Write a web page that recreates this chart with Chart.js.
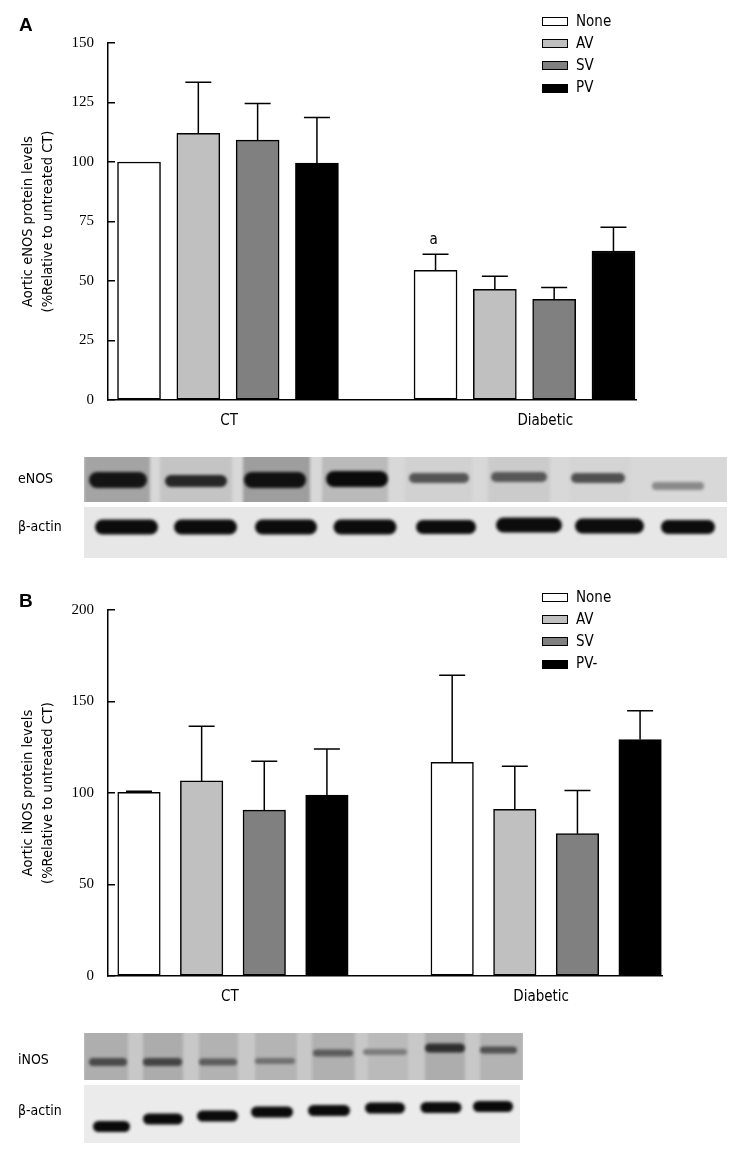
<!DOCTYPE html>
<html>
<head>
<meta charset="utf-8">
<script src="https://cdn.jsdelivr.net/npm/chart.js@4.4.1/dist/chart.umd.min.js"></script>
<style>
  body { margin: 0; background: #fff; }
  #page { position: relative; width: 745px; height: 1156px; overflow: hidden; font-family: "DejaVu Sans Condensed", "DejaVu Sans", sans-serif; color: #000; }
  .abs { position: absolute; }
  .panel { font-family: "Liberation Sans", Arial, sans-serif; font-weight: bold; font-size: 19px; }
  .blotlbl { font-size: 14px; line-height: 16px; }
  .legend-row { position: absolute; left: 542px; height: 12px; font-size: 15px; white-space: nowrap; }
  .legend-row span.box { position: absolute; left: 0; top: 1.5px; width: 24px; height: 7px; border: 1px solid #000; }
  .legend-row span.txt { position: absolute; left: 34px; top: -5px; line-height: 20px; }
</style>
</head>
<body>
<div id="page">
  <canvas id="blots" class="abs" width="745" height="1156" style="left:0;top:0"></canvas>
  <div class="abs" style="left:0;top:0;width:745px;height:440px"><canvas id="chartA"></canvas></div>
  <div class="abs" style="left:0;top:580px;width:745px;height:440px"><canvas id="chartB"></canvas></div>
  <div class="abs panel" style="left:19px;top:14px">A</div>
  <div class="abs panel" style="left:19px;top:590px">B</div>
  <div class="abs blotlbl" style="left:18px;top:470px">eNOS</div>
  <div class="abs blotlbl" style="left:18px;top:518px">β-actin</div>
  <div class="abs blotlbl" style="left:18px;top:1051px">iNOS</div>
  <div class="abs blotlbl" style="left:18px;top:1102px">β-actin</div>
  <div id="legendA"></div>
  <div id="legendB"></div>
</div>
<script>
// groups on the x axis
const groups = ['CT', 'Diabetic'];
const seriesColors = ['#ffffff', '#c0c0c0', '#808080', '#000000'];

// panel A: aortic eNOS
const seriesA = ['None', 'AV', 'SV', 'PV'];
const eNOS_CT = [100, 112, 109.2, 99.5];
const eNOS_CT_sem = [0, 21.5, 15.4, 19.2];
const eNOS_Diab = [54.5, 46.5, 42.3, 62.6];
const eNOS_Diab_sem = [6.7, 5.5, 5.0, 10.0];
const eNOS_marks = [['', ''], ['a', '', '', '']];
const ticksA = [0, 25, 50, 75, 100, 125, 150];

// panel B: aortic iNOS
const seriesB = ['None', 'AV', 'SV', 'PV-'];
const iNOS_CT = [100.3, 106.6, 90.6, 98.8];
const iNOS_CT_sem = [0.6, 29.9, 26.7, 25.2];
const iNOS_Diab = [116.8, 91.1, 77.8, 129.2];
const iNOS_Diab_sem = [47.5, 23.5, 23.5, 15.8];
const ticksB = [0, 50, 100, 150, 200];

const errorBars = {
    id: 'errorBars',
    afterDatasetsDraw(chart) {
        const ctx = chart.ctx;
        const y = chart.scales.y;
        chart.data.datasets.forEach((ds, i) => {
            chart.getDatasetMeta(i).data.forEach((bar, j) => {
                const e = ds.errors[j];
                const top = y.getPixelForValue(ds.data[j].y + e);
                ctx.save();
                ctx.strokeStyle = '#000';
                ctx.lineWidth = 1.5;
                if (e > 0) {
                    ctx.beginPath();
                    ctx.moveTo(bar.x, bar.y);
                    ctx.lineTo(bar.x, top);
                    ctx.moveTo(bar.x - 13, top);
                    ctx.lineTo(bar.x + 13, top);
                    ctx.stroke();
                }
                if (ds.marks && ds.marks[j]) {
                    ctx.fillStyle = '#000';
                    ctx.font = '15px "DejaVu Sans Condensed", "DejaVu Sans", sans-serif';
                    ctx.textAlign = 'center';
                    ctx.textBaseline = 'alphabetic';
                    ctx.fillText(ds.marks[j], bar.x - 2, top - 10);
                }
                ctx.restore();
            });
        });
    }
};

function buildDatasets(names, ctVals, ctSem, diabVals, diabSem, marks) {
    return names.map((name, s) => ({
        label: name,
        data: [{x: s, y: ctVals[s]}, {x: 5 + s, y: diabVals[s]}],
        errors: [ctSem[s], diabSem[s]],
        marks: marks ? [marks[0][s], marks[1][s]] : null,
        backgroundColor: seriesColors[s],
        borderColor: '#000',
        borderWidth: 1.5,
        borderSkipped: false,
        grouped: false
    }));
}

function createChart(id, cfg) {
    return new Chart(document.getElementById(id), {
        type: 'bar',
        data: { datasets: cfg.datasets },
        options: {
            responsive: true,
            maintainAspectRatio: false,
            animation: false,
            barThickness: cfg.barWidth,
            layout: { padding: cfg.padding },
            plugins: { legend: { display: false }, tooltip: { enabled: false } },
            scales: {
                x: {
                    type: 'linear',
                    offset: false,
                    min: cfg.xMin,
                    max: cfg.xMax,
                    grid: { display: false, drawTicks: false },
                    border: { display: true, color: '#000', width: 1.5 },
                    afterBuildTicks: (scale) => { scale.ticks = cfg.labelAt.map(v => ({value: v})); },
                    afterFit: (scale) => { scale.height = cfg.xHeight; },
                    ticks: {
                        autoSkip: false,
                        maxRotation: 0,
                        padding: 12,
                        color: '#000',
                        font: { family: '"DejaVu Sans Condensed", "DejaVu Sans", sans-serif', size: 15 },
                        callback: (value, index) => groups[index]
                    }
                },
                y: {
                    min: 0,
                    max: cfg.yTicks[cfg.yTicks.length - 1],
                    afterBuildTicks: (scale) => { scale.ticks = cfg.yTicks.map(v => ({value: v})); },
                    afterFit: (scale) => { scale.width = 108; },
                    grid: { drawOnChartArea: false, color: '#000', lineWidth: 1.5, tickLength: -7 },
                    border: { display: true, color: '#000', width: 1.5 },
                    ticks: {
                        padding: 21,
                        color: '#000',
                        font: { family: '"Liberation Serif", "Times New Roman", serif', size: 15 }
                    },
                    title: {
                        display: true,
                        text: cfg.yTitle,
                        color: '#000',
                        padding: { top: 18, bottom: 0 },
                        font: { family: '"DejaVu Sans Condensed", "DejaVu Sans", sans-serif', size: 14.5, lineHeight: 1.4 }
                    }
                }
            }
        },
        plugins: [errorBars]
    });
}

function renderLegend(id, names, top) {
    const html = names.map((name, s) => `
        <div class="legend-row" style="top:${top + s * 22.2}px">
            <span class="box" style="background:${seriesColors[s]}"></span>
            <span class="txt">${name}</span>
        </div>`).join('');
    document.getElementById(id).innerHTML = html;
}

createChart('chartA', {
    datasets: buildDatasets(seriesA, eNOS_CT, eNOS_CT_sem, eNOS_Diab, eNOS_Diab_sem, eNOS_marks),
    yTicks: ticksA,
    yTitle: ['Aortic eNOS protein levels', '(%Relative to untreated CT)'],
    xMin: -0.523, xMax: 8.38,
    labelAt: [1.52, 6.85],
    barWidth: 43,
    padding: { top: 43, right: 109, bottom: 0, left: 0 },
    xHeight: 40
});

createChart('chartB', {
    datasets: buildDatasets(seriesB, iNOS_CT, iNOS_CT_sem, iNOS_Diab, iNOS_Diab_sem, null),
    yTicks: ticksB,
    yTitle: ['Aortic iNOS protein levels', '(%Relative to untreated CT)'],
    xMin: -0.495, xMax: 8.35,
    labelAt: [1.45, 6.42],
    barWidth: 42.5,
    padding: { top: 20, right: 83, bottom: 0, left: 0 },
    xHeight: 44
});

renderLegend('legendA', seriesA, 15.5);
renderLegend('legendB', seriesB, 591.5);

// western blot strips (decoration under the charts)
const blotStrips = [
    { x0: 84, x1: 727, y0: 457, y1: 502, bg: '#d8d8d8',
      panels: [[84, 150, '#a4a4a4'], [160, 232, '#c4c4c4'], [243, 310, '#9e9e9e'], [322, 388, '#bababa'], [405, 472, '#d1d1d1'], [488, 550, '#cbcbcb'], [570, 630, '#d4d4d4']],
      bands: [[118, 58, 480, 16, '#141414'], [196, 62, 481, 12, '#262626'], [275, 62, 480, 16, '#101010'], [357, 62, 479, 16, '#0a0a0a'],
              [439, 60, 478, 10, '#555'], [519, 56, 477, 10, '#575757'], [598, 54, 478, 10, '#505050'], [678, 52, 486, 8, '#8a8a8a']] },
    { x0: 84, x1: 727, y0: 507, y1: 558, bg: '#e7e7e7', panels: [],
      bands: [[126.5, 63, 527, 15, '#0c0c0c'], [205.5, 63, 527, 15, '#0c0c0c'], [286, 62, 527, 15, '#0c0c0c'], [365, 63, 527, 15, '#0c0c0c'],
              [446, 60, 527, 14, '#0c0c0c'], [529, 66, 525, 15, '#0c0c0c'], [609.5, 69, 526, 15, '#0c0c0c'], [688, 54, 527, 14, '#0c0c0c']] },
    { x0: 84, x1: 523, y0: 1033, y1: 1080, bg: '#c8c8c8',
      panels: [[84, 128, '#aeaeae'], [143, 183, '#acacac'], [199, 238, '#b2b2b2'], [255, 297, '#b4b4b4'], [312, 355, '#b0b0b0'], [368, 408, '#bababa'], [425, 465, '#adadad'], [480, 523, '#b3b3b3']],
      bands: [[108, 38, 1062, 8, '#4a4a4a'], [162.5, 39, 1062, 8, '#444'], [218, 38, 1062, 7, '#5c5c5c'], [275, 40, 1061, 6, '#707070'],
              [333, 40, 1053, 7, '#5a5a5a'], [385, 44, 1052, 6, '#7c7c7c'], [445, 40, 1048, 9, '#2e2e2e'], [498.5, 37, 1050, 7, '#505050']] },
    { x0: 84, x1: 520, y0: 1085, y1: 1143, bg: '#ebebeb', panels: [],
      bands: [[111.5, 37, 1126.5, 11, '#0a0a0a'], [163, 40, 1119, 11, '#0a0a0a'], [217.5, 41, 1116, 11, '#0a0a0a'], [272, 42, 1112, 11, '#0a0a0a'],
              [329, 42, 1110.5, 11, '#0a0a0a'], [385, 40, 1108, 11, '#0a0a0a'], [441, 41, 1107.5, 11, '#0a0a0a'], [493, 40, 1106.5, 11, '#0a0a0a']] }
];

function drawBlots() {
    const ctx = document.getElementById('blots').getContext('2d');
    blotStrips.forEach(st => {
        ctx.save();
        ctx.beginPath();
        ctx.rect(st.x0, st.y0, st.x1 - st.x0, st.y1 - st.y0);
        ctx.clip();
        ctx.fillStyle = st.bg;
        ctx.fillRect(st.x0, st.y0, st.x1 - st.x0, st.y1 - st.y0);
        ctx.filter = 'blur(1.5px)';
        st.panels.forEach(p => {
            ctx.fillStyle = p[2];
            ctx.fillRect(p[0], st.y0 - 4, p[1] - p[0], st.y1 - st.y0 + 8);
        });
        ctx.filter = 'blur(1.8px)';
        st.bands.forEach(b => {
            ctx.fillStyle = b[4];
            ctx.beginPath();
            ctx.roundRect(b[0] - b[1] / 2, b[2] - b[3] / 2, b[1], b[3], b[3] / 2);
            ctx.fill();
        });
        ctx.restore();
    });
}
drawBlots();
</script>
</body>
</html>
